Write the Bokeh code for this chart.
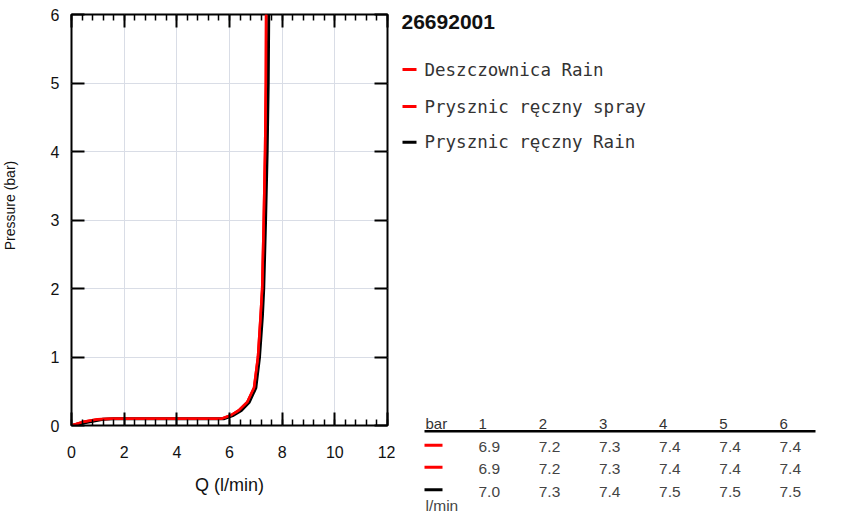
import math
from bokeh.plotting import figure
from bokeh.models import FixedTicker, LinearAxis, Range1d
from bokeh.layouts import row, column
from bokeh.core.properties import value
from bokeh.embed import file_html
from bokeh.resources import INLINE

# ---------------- data ----------------
title = "26692001"
series_names = ["Deszczownica Rain", "Prysznic ręczny spray", "Prysznic ręczny Rain"]
series_colors = ["#ff0000", "#ff0000", "#000000"]

q_rain = [0, 0.4, 1.0, 1.5, 5.7, 6.05, 6.35, 6.67, 6.93, 7.08, 7.18, 7.24, 7.30, 7.35, 7.38, 7.39]
p_rain = [0, 0.05, 0.09, 0.10, 0.10, 0.15, 0.22, 0.34, 0.55, 1.0, 1.6, 2.0, 3.0, 4.0, 5.0, 6.0]
q_spray = [0, 0.4, 1.0, 1.5, 5.7, 6.05, 6.35, 6.67, 6.93, 7.08, 7.18, 7.24, 7.30, 7.35, 7.38, 7.39]
p_spray = [0, 0.05, 0.09, 0.10, 0.10, 0.15, 0.22, 0.34, 0.55, 1.0, 1.6, 2.0, 3.0, 4.0, 5.0, 6.0]
q_hand = [0, 0.5, 1.2, 1.6, 5.8, 6.15, 6.45, 6.75, 7.0, 7.14, 7.25, 7.30, 7.37, 7.43, 7.47, 7.49]
p_hand = [0, 0.04, 0.09, 0.10, 0.10, 0.15, 0.22, 0.34, 0.55, 1.0, 1.6, 2.0, 3.0, 4.0, 5.0, 6.0]

x_ticks = [0, 2, 4, 6, 8, 10, 12]
x_minor = [i * 0.4 for i in range(31)]
y_ticks = [0, 1, 2, 3, 4, 5, 6]
x_title = "Q (l/min)"
y_title = "Pressure (bar)"

table_header = ["1", "2", "3", "4", "5", "6"]
table_rows = [
    ["6.9", "7.2", "7.3", "7.4", "7.4", "7.4"],
    ["6.9", "7.2", "7.3", "7.4", "7.4", "7.4"],
    ["7.0", "7.3", "7.4", "7.5", "7.5", "7.5"],
]

FONT = "Liberation Sans"
H = 528
W0 = 22          # strip holding the y title
W1 = 395 - W0    # main chart
W2 = 850 - 395   # legend + table


def pixel_figure(w):
    f = figure(width=w, height=H, x_range=Range1d(0, w), y_range=Range1d(H, 0),
               output_backend="svg", toolbar_location=None,
               x_axis_location=None, y_axis_location=None,
               min_border_left=0, min_border_right=0, min_border_top=0, min_border_bottom=0)
    f.outline_line_color = None
    f.xgrid.visible = False
    f.ygrid.visible = False
    return f


# ---------------- y title strip ----------------
p0 = pixel_figure(W0)
p0.text(x=[9], y=[205], text=[y_title], angle=math.pi / 2, text_font=value(FONT),
        text_font_size="14px", text_baseline="middle", text_align="center", text_color="#111111")

# ---------------- main chart ----------------
p = figure(width=W1, height=H, x_range=Range1d(0, 12), y_range=Range1d(0, 6),
           output_backend="svg", toolbar_location=None,
           min_border_left=71 - W0, min_border_right=395 - 387, min_border_top=14,
           min_border_bottom=H - 425)
p.outline_line_color = "black"
p.outline_line_width = 2
p.background_fill_color = "white"
p.border_fill_color = "white"

xt = FixedTicker(ticks=x_ticks, minor_ticks=x_minor)
yt = FixedTicker(ticks=y_ticks, minor_ticks=[])


def style_axis(ax, ticker, labels=True):
    ax.ticker = ticker
    ax.axis_line_color = None
    ax.major_tick_in = 13
    ax.major_tick_out = 0
    ax.major_tick_line_width = 2
    ax.major_tick_line_color = "black"
    ax.minor_tick_in = 6
    ax.minor_tick_out = 0
    ax.minor_tick_line_width = 1.5
    ax.minor_tick_line_color = "black"
    if labels:
        ax.major_label_text_font = FONT
        ax.major_label_text_font_size = "16px"
        ax.major_label_text_color = "#111111"
        ax.axis_label_text_font = FONT
        ax.axis_label_text_font_style = "normal"
        ax.axis_label_text_color = "#111111"
    else:
        ax.major_label_text_font_size = "0px"
        ax.major_label_standoff = 0


style_axis(p.xaxis[0], xt)
style_axis(p.yaxis[0], yt)
p.xaxis[0].axis_label = x_title
p.xaxis[0].axis_label_text_font_size = "18px"
p.xaxis[0].major_label_standoff = 20
p.xaxis[0].axis_label_standoff = 14
p.yaxis[0].major_label_standoff = 12
p.yaxis[0].minor_tick_in = 0

top_ax = LinearAxis()
style_axis(top_ax, xt, labels=False)
p.add_layout(top_ax, "above")
right_ax = LinearAxis()
style_axis(right_ax, yt, labels=False)
right_ax.minor_tick_in = 0
p.add_layout(right_ax, "right")

p.xgrid.ticker = xt
p.ygrid.ticker = yt
p.xgrid.grid_line_color = "#d9dde6"
p.ygrid.grid_line_color = "#d9dde6"

p.line(q_hand, p_hand, line_color=series_colors[2], line_width=3)
p.line(q_spray, p_spray, line_color=series_colors[1], line_width=2.5)
p.line(q_rain, p_rain, line_color=series_colors[0], line_width=2.5)

# ---------------- legend + table panel (pixel coordinates) ----------------
X0 = 395  # page x where this panel starts
p2 = pixel_figure(W2)


def px(v):
    return v - X0


# title
p2.text(x=[px(401)], y=[21.7], text=[title], text_font=value(FONT), text_font_size="21px",
        text_font_style="bold", text_baseline="middle", text_align="left", text_color="#111111")

# legend
leg_y = [69, 106, 141.7]
p2.segment(x0=[px(402)] * 3, y0=leg_y, x1=[px(416)] * 3, y1=leg_y,
           line_color=series_colors, line_width=3)
p2.text(x=[px(424)] * 3, y=leg_y, text=series_names, text_font=value("DejaVu Sans Mono"),
        text_font_size="17.5px", text_baseline="middle", text_align="left", text_color="#333333")

# table
col_x = [px(478 + 60.2 * i) for i in range(len(table_header))]
p2.text(x=[px(425)] + col_x, y=[423] * 7, text=["bar"] + table_header, text_font=value(FONT),
        text_font_size="15px", text_baseline="middle", text_align="left", text_color="#333333")
p2.segment(x0=[px(424)], y0=[430.7], x1=[px(815)], y1=[430.7], line_color="black", line_width=2.5)
row_y = [446.7, 468.3, 491]
dash_y = [444.7, 466.7, 489.3]
p2.segment(x0=[px(424)] * 3, y0=dash_y, x1=[px(442)] * 3, y1=dash_y,
           line_color=series_colors, line_width=3)
xs, ys, ts = [], [], []
for r, yy in zip(table_rows, row_y):
    for cx, t in zip(col_x, r):
        xs.append(cx)
        ys.append(yy)
        ts.append(t)
p2.text(x=xs, y=ys, text=ts, text_font=value(FONT), text_font_size="15.5px",
        text_baseline="middle", text_align="left", text_color="#444444")
p2.text(x=[px(425)], y=[505], text=["l/min"], text_font=value(FONT), text_font_size="15.5px",
        text_baseline="middle", text_align="left", text_color="#444444")

layout = row(column(p0), p, column(p2))
open("out.html", "w").write(file_html(layout, INLINE))
